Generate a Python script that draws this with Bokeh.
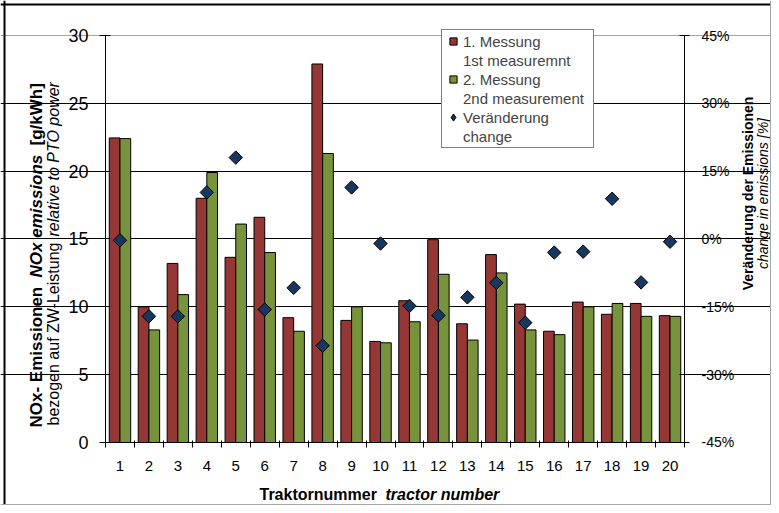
import math
from bokeh.plotting import figure
from bokeh.models import (Range1d, LinearAxis, FixedTicker, PrintfTickFormatter, Grid, Span,
                          Legend, LegendItem, Label, ColumnDataSource)
from bokeh.transform import dodge
from bokeh.embed import file_html
from bokeh.resources import INLINE

tractors = list(range(1, 21))
tick_labels = [str(t) for t in tractors]
first = [22.45, 10.0, 13.2, 18.0, 13.65, 16.6, 9.2, 27.9, 9.0, 7.45,
         10.45, 14.95, 8.75, 13.85, 10.2, 8.2, 10.35, 9.45, 10.25, 9.35]
second = [22.4, 8.3, 10.9, 19.9, 16.1, 14.0, 8.2, 21.3, 10.0, 7.35,
          8.9, 12.4, 7.55, 12.5, 8.3, 7.95, 10.0, 10.25, 9.3, 9.3]
change = [-0.3, -17.1, -17.1, 10.3, 18.0, -15.6, -10.8, -23.6, 11.4, -1.0,
          -14.8, -16.9, -12.9, -9.7, -18.5, -3.0, -2.8, 8.9, -9.6, -0.6]
left_ticks = [0, 5, 10, 15, 20, 25, 30]
right_ticks = [-45, -30, -15, 0, 15, 30, 45]

FONT = "Liberation Sans"
RED = "#953735"
GREEN = "#77933C"
NAVY = "#17375E"
W, H = 771, 505

src = ColumnDataSource(dict(x=tractors, first=first, second=second, change=change))

# the frame covers the whole canvas; axes are placed with fixed_location
YS, YE = -4.644, 32.58
p = figure(width=W, height=H, x_range=Range1d(-3.127, 23.505), y_range=Range1d(YS, YE),
           output_backend="svg", toolbar_location=None,
           x_axis_location=None, y_axis_location=None,
           min_border=0, min_border_left=0, min_border_right=0,
           min_border_top=0, min_border_bottom=0)
p.extra_y_ranges = {"pct": Range1d((YS - 15) * 3, (YE - 15) * 3)}
p.outline_line_color = None
p.background_fill_color = "white"
p.border_fill_color = "white"
for r in list(p.center):
    if isinstance(r, Grid):
        r.visible = False

# grid lines
p.add_layout(Grid(dimension=1, ticker=FixedTicker(ticks=[5, 10, 15, 20, 25]),
                  bounds=(0.5, 20.5), grid_line_color="black", grid_line_width=1))
p.add_layout(Grid(dimension=1, ticker=FixedTicker(ticks=[30]),
                  bounds=(0.5, 20.5), grid_line_color="#A6A6A6", grid_line_width=1))

# bars and change markers
r1 = p.vbar(x=dodge("x", -0.185, range=p.x_range), top="first", width=0.37, source=src,
            fill_color=RED, line_color="black", line_width=1)
r2 = p.vbar(x=dodge("x", 0.185, range=p.x_range), top="second", width=0.37, source=src,
            fill_color=GREEN, line_color="black", line_width=1)
r3 = p.scatter(x="x", y="change", y_range_name="pct", source=src, marker="square",
               angle=math.pi / 4, size=9.5, fill_color=NAVY, line_color="black", line_width=1)

# x axis
xa = LinearAxis(fixed_location=0, bounds=(0.5, 20.5))
xa.ticker = FixedTicker(ticks=tractors, minor_ticks=[t - 0.5 for t in tractors] + [20.5])
xa.major_label_overrides = {t: l for t, l in zip(tractors, tick_labels)}
xa.major_tick_in = 0
xa.major_tick_out = 0
xa.minor_tick_in = 2
xa.minor_tick_out = 5
xa.minor_tick_line_color = "black"
xa.axis_line_color = "black"
xa.major_label_text_font = FONT
xa.major_label_text_font_size = "15px"
xa.major_label_text_color = "black"
xa.major_label_standoff = 14
p.add_layout(xa, "below")

# left axis
ya = LinearAxis(fixed_location=0.5, bounds=(0, 30), ticker=FixedTicker(ticks=left_ticks))
ya.minor_tick_line_color = None
ya.major_tick_in = 5
ya.major_tick_out = 6
ya.major_tick_line_color = "black"
ya.axis_line_color = "black"
ya.major_label_text_font = FONT
ya.major_label_text_font_size = "18px"
ya.major_label_text_color = "black"
ya.major_label_standoff = 11
p.add_layout(ya, "left")

# right axis
ra = LinearAxis(y_range_name="pct", fixed_location=20.5, bounds=(-45, 45),
                ticker=FixedTicker(ticks=right_ticks),
                formatter=PrintfTickFormatter(format="%d%%"))
ra.minor_tick_line_color = None
ra.major_tick_in = 5
ra.major_tick_out = 5
ra.major_tick_line_color = "black"
ra.axis_line_color = "black"
ra.major_label_text_font = FONT
ra.major_label_text_font_size = "14px"
ra.major_label_text_color = "black"
ra.major_label_standoff = 12
p.add_layout(ra, "right")

# legend glyphs (hidden on the plot, drawn in the legend)
g1 = p.scatter(x="x", y="first", source=src, marker="square", fill_color=RED,
               line_color="black", line_width=1, visible=False)
g2 = p.scatter(x="x", y="second", source=src, marker="square", fill_color=GREEN,
               line_color="black", line_width=1, visible=False)
g3 = p.scatter(x="x", y="change", y_range_name="pct", source=src, marker="diamond",
               fill_color=NAVY, line_color="black", line_width=1, visible=False)
blank = p.scatter(x=[], y=[], fill_alpha=0, line_alpha=0)

items = [
    LegendItem(label="1. Messung", renderers=[g1]),
    LegendItem(label="1st measuremnt", renderers=[blank]),
    LegendItem(label="2. Messung", renderers=[g2]),
    LegendItem(label="2nd measurement", renderers=[blank]),
    LegendItem(label="Veränderung", renderers=[g3]),
    LegendItem(label="change", renderers=[blank]),
]
legend = Legend(items=items, location=(441, 357), label_text_font=FONT,
                label_text_font_size="15px", glyph_width=18, glyph_height=18,
                label_height=18, label_width=128, spacing=1, padding=2, margin=0,
                border_line_color="black", background_fill_color="white",
                background_fill_alpha=1, label_standoff=1, click_policy="none",
                inactive_fill_alpha=0)
p.add_layout(legend)

def lab(text, x, y, size, style, angle=0.0, align="left", baseline="alphabetic"):
    p.add_layout(Label(x=x, y=y, x_units="screen", y_units="screen", text=text,
                       text_font=FONT, text_font_size=size, text_font_style=style,
                       angle=angle, text_align=align, text_baseline=baseline,
                       text_color="black"))

R = math.pi / 2
# left axis title (two lines, mixed styles)
lab("NOx- Emissionen", 36, 78, "17px", "bold", R)
lab("NOx emissions", 36, 228, "17px", "bold italic", R)
lab("[g/kWh]", 36, 360, "17px", "bold", R)
lab("bezogen auf ZW-Leistung", 53, 80, "16px", "normal", R)
lab("relative to PTO power", 53, 269, "16px", "italic", R)
# right axis title
lab("Veränderung der Emissionen", 747, 312, "14px", "bold", R, "center")
lab("change in emissions [%]", 762, 312, "14px", "italic", R, "center")
# x axis title
lab("Traktornummer", 259, 11, "16px", "bold")
lab("tractor number", 385, 11, "16px", "bold italic")

# chart border
p.add_layout(Span(location=4, location_units="screen", dimension="height",
                  line_color="black", line_width=2))
p.add_layout(Span(location=H - 4, location_units="screen", dimension="width",
                  line_color="black", line_width=2))
p.add_layout(Span(location=W - 1, location_units="screen", dimension="height",
                  line_color="#A6A6A6", line_width=1))
p.add_layout(Span(location=1, location_units="screen", dimension="width",
                  line_color="#A6A6A6", line_width=1))

open("out.html", "w").write(file_html(p, INLINE))
